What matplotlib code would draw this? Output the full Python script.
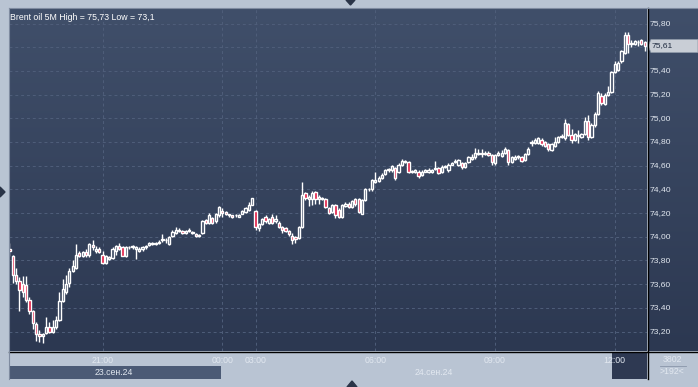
import numpy as np
import matplotlib
matplotlib.use("Agg")
import matplotlib.pyplot as plt
from matplotlib.patches import Rectangle, Polygon
from matplotlib.lines import Line2D
import matplotlib.transforms as mtransforms

# 5-minute candles, Brent oil, 23-24 Sep 2024
opens = [
    73.90, 73.84, 73.68, 73.63, 73.60, 73.59, 73.47, 73.37, 73.26, 73.18, 73.16, 73.19,
    73.24, 73.20, 73.24, 73.30, 73.46, 73.53, 73.61, 73.71, 73.74, 73.86, 73.84, 73.87,
    73.85, 73.93, 73.88, 73.90, 73.85, 73.78, 73.81, 73.82, 73.88, 73.92, 73.91, 73.84,
    73.91, 73.92, 73.90, 73.88, 73.90, 73.91, 73.93, 73.95, 73.94, 73.95, 73.98, 73.97,
    73.94, 74.01, 74.03, 74.06, 74.05, 74.03, 74.05, 74.04, 74.02, 74.01, 74.03, 74.14,
    74.12, 74.16, 74.13, 74.18, 74.22, 74.21, 74.19, 74.18, 74.18, 74.17, 74.19, 74.21,
    74.23, 74.27, 74.22, 74.07, 74.11, 74.17, 74.12, 74.17, 74.13, 74.12, 74.08, 74.07,
    74.05, 74.01, 74.00, 73.99, 74.08, 74.37, 74.32, 74.32, 74.38, 74.32, 74.33, 74.32,
    74.24, 74.21, 74.27, 74.23, 74.17, 74.26, 74.28, 74.25, 74.32, 74.32, 74.19, 74.31,
    74.40, 74.40, 74.46, 74.47, 74.50, 74.53, 74.57, 74.56, 74.58, 74.55, 74.61, 74.64,
    74.63, 74.55, 74.55, 74.55, 74.52, 74.55, 74.55, 74.55, 74.57, 74.58, 74.55, 74.59,
    74.56, 74.61, 74.63, 74.61, 74.62, 74.59, 74.63, 74.66, 74.67, 74.70, 74.71, 74.70,
    74.71, 74.69, 74.62, 74.69, 74.68, 74.71, 74.73, 74.63, 74.66, 74.67, 74.67, 74.65,
    74.70, 74.79, 74.79, 74.79, 74.82, 74.80, 74.78, 74.73, 74.77, 74.80, 74.84, 74.83,
    74.95, 74.86, 74.82, 74.86, 74.84, 74.87, 74.98, 74.84, 74.94, 75.04, 75.19, 75.12,
    75.20, 75.22, 75.39, 75.41, 75.48, 75.55, 75.70, 75.63, 75.63, 75.64, 75.66, 75.64,
]
highs = [
    73.95, 73.85, 73.74, 73.66, 73.67, 73.67, 73.49, 73.38, 73.28, 73.21, 73.19, 73.32,
    73.28, 73.30, 73.33, 73.53, 73.64, 73.68, 73.74, 73.80, 73.94, 73.88, 73.88, 73.90,
    73.95, 73.97, 73.92, 73.91, 73.88, 73.85, 73.84, 73.91, 73.93, 73.95, 73.92, 73.92,
    73.92, 73.93, 73.92, 73.91, 73.92, 73.93, 73.96, 73.96, 73.96, 73.97, 74.02, 73.99,
    74.01, 74.06, 74.08, 74.07, 74.06, 74.06, 74.07, 74.05, 74.03, 74.02, 74.14, 74.15,
    74.20, 74.17, 74.20, 74.26, 74.24, 74.22, 74.19, 74.18, 74.19, 74.19, 74.23, 74.25,
    74.29, 74.33, 74.23, 74.12, 74.16, 74.18, 74.16, 74.19, 74.18, 74.13, 74.09, 74.08,
    74.06, 74.03, 74.01, 74.09, 74.46, 74.38, 74.35, 74.39, 74.39, 74.35, 74.34, 74.33,
    74.25, 74.28, 74.28, 74.24, 74.28, 74.29, 74.29, 74.31, 74.33, 74.33, 74.32, 74.41,
    74.41, 74.49, 74.55, 74.51, 74.54, 74.57, 74.58, 74.61, 74.59, 74.62, 74.66, 74.65,
    74.64, 74.56, 74.57, 74.56, 74.56, 74.57, 74.58, 74.57, 74.64, 74.59, 74.61, 74.61,
    74.62, 74.63, 74.66, 74.66, 74.63, 74.63, 74.68, 74.70, 74.75, 74.74, 74.74, 74.72,
    74.72, 74.70, 74.70, 74.72, 74.73, 74.76, 74.74, 74.68, 74.69, 74.69, 74.68, 74.71,
    74.76, 74.82, 74.83, 74.84, 74.83, 74.81, 74.79, 74.79, 74.84, 74.85, 74.87, 74.99,
    74.96, 74.91, 74.88, 74.90, 74.88, 75.01, 75.03, 74.96, 75.05, 75.23, 75.21, 75.21,
    75.27, 75.40, 75.48, 75.48, 75.58, 75.73, 75.73, 75.66, 75.66, 75.66, 75.67, 75.65,
]
lows = [
    73.84, 73.61, 73.60, 73.37, 73.49, 73.45, 73.35, 73.22, 73.12, 73.11, 73.10, 73.18,
    73.19, 73.19, 73.22, 73.29, 73.45, 73.52, 73.58, 73.70, 73.73, 73.83, 73.83, 73.83,
    73.83, 73.89, 73.86, 73.86, 73.77, 73.77, 73.80, 73.81, 73.85, 73.89, 73.84, 73.83,
    73.90, 73.90, 73.81, 73.87, 73.88, 73.90, 73.92, 73.93, 73.93, 73.94, 73.96, 73.95,
    73.93, 74.00, 74.02, 74.04, 74.02, 74.02, 74.04, 74.02, 74.00, 74.00, 74.02, 74.11,
    74.11, 74.11, 74.12, 74.17, 74.17, 74.18, 74.17, 74.16, 74.17, 74.17, 74.19, 74.20,
    74.22, 74.27, 74.06, 74.05, 74.10, 74.12, 74.11, 74.11, 74.12, 74.07, 74.03, 74.04,
    74.01, 73.94, 73.95, 73.98, 74.07, 74.31, 74.26, 74.27, 74.28, 74.28, 74.31, 74.24,
    74.19, 74.20, 74.16, 74.16, 74.16, 74.25, 74.24, 74.24, 74.26, 74.20, 74.19, 74.30,
    74.39, 74.39, 74.45, 74.46, 74.49, 74.52, 74.55, 74.55, 74.48, 74.54, 74.60, 74.62,
    74.54, 74.54, 74.54, 74.50, 74.51, 74.55, 74.54, 74.54, 74.56, 74.53, 74.54, 74.58,
    74.55, 74.61, 74.62, 74.60, 74.57, 74.58, 74.62, 74.65, 74.66, 74.69, 74.67, 74.69,
    74.68, 74.61, 74.61, 74.68, 74.67, 74.70, 74.61, 74.62, 74.65, 74.66, 74.63, 74.64,
    74.69, 74.77, 74.78, 74.78, 74.77, 74.76, 74.72, 74.72, 74.76, 74.79, 74.83, 74.82,
    74.85, 74.79, 74.81, 74.79, 74.83, 74.86, 74.82, 74.83, 74.93, 75.03, 75.11, 75.11,
    75.19, 75.21, 75.38, 75.40, 75.47, 75.54, 75.55, 75.60, 75.62, 75.61, 75.62, 75.57,
]
closes = [
    73.88, 73.68, 73.63, 73.55, 73.53, 73.47, 73.37, 73.27, 73.18, 73.16, 73.18, 73.24,
    73.20, 73.24, 73.30, 73.46, 73.56, 73.60, 73.71, 73.75, 73.85, 73.84, 73.87, 73.85,
    73.94, 73.91, 73.90, 73.87, 73.78, 73.84, 73.83, 73.90, 73.92, 73.90, 73.84, 73.91,
    73.91, 73.91, 73.91, 73.90, 73.91, 73.92, 73.95, 73.94, 73.95, 73.95, 73.97, 73.97,
    74.00, 74.04, 74.06, 74.05, 74.03, 74.05, 74.06, 74.03, 74.01, 74.01, 74.13, 74.12,
    74.18, 74.12, 74.19, 74.25, 74.20, 74.19, 74.18, 74.17, 74.18, 74.18, 74.22, 74.24,
    74.27, 74.33, 74.08, 74.11, 74.15, 74.13, 74.15, 74.12, 74.15, 74.08, 74.06, 74.05,
    74.02, 73.97, 73.98, 74.08, 74.35, 74.33, 74.34, 74.37, 74.32, 74.34, 74.32, 74.25,
    74.20, 74.27, 74.18, 74.17, 74.27, 74.28, 74.25, 74.30, 74.28, 74.21, 74.31, 74.40,
    74.40, 74.48, 74.48, 74.50, 74.52, 74.56, 74.56, 74.60, 74.50, 74.61, 74.64, 74.63,
    74.55, 74.55, 74.56, 74.51, 74.55, 74.56, 74.56, 74.56, 74.58, 74.54, 74.59, 74.60,
    74.61, 74.62, 74.64, 74.65, 74.59, 74.62, 74.67, 74.67, 74.71, 74.71, 74.70, 74.71,
    74.69, 74.63, 74.69, 74.71, 74.71, 74.74, 74.63, 74.67, 74.67, 74.68, 74.64, 74.70,
    74.74, 74.80, 74.82, 74.83, 74.78, 74.77, 74.74, 74.78, 74.80, 74.84, 74.85, 74.96,
    74.86, 74.82, 74.87, 74.85, 74.87, 74.98, 74.84, 74.94, 75.04, 75.21, 75.13, 75.20,
    75.22, 75.39, 75.46, 75.47, 75.57, 75.70, 75.63, 75.63, 75.65, 75.64, 75.63, 75.61,
]

time_ticks = [28, 64, 74, 110, 146, 182]
time_labels = ["21:00", "00:00", "03:00", "06:00", "09:00", "12:00"]
date_pos = [31.5, 127.5]
date_labels = ["23.сен.24", "24.сен.24"]
price_levels = [73.2, 73.4, 73.6, 73.8, 74.0, 74.2, 74.4, 74.6, 74.8, 75.0, 75.2, 75.4, 75.6, 75.8]
last_price = 75.61
title = "Brent oil 5M High = 75,73 Low = 73,1"

W, H = 698, 387
plt.rcParams['font.family'] = ['Liberation Sans', 'DejaVu Sans']
fig = plt.figure(figsize=(W / 100, H / 100), dpi=100, facecolor='#b9c4d3')


def box(x0, y0, x1, y1):
    return [x0 / W, 1 - y1 / H, (x1 - x0) / W, (y1 - y0) / H]


def gradient(ax, top, bottom):
    c1 = np.array(matplotlib.colors.to_rgb(top))
    c2 = np.array(matplotlib.colors.to_rgb(bottom))
    t = np.linspace(0, 1, 256)[:, None]
    img = (c1 * (1 - t) + c2 * t)[:, None, :]
    ax.imshow(img, extent=[0, 1, 0, 1], transform=ax.transAxes, aspect='auto', zorder=0)


BG_TOP, BG_BOT = '#404f6a', '#2c3851'
TXT = '#e2e8f0'
GRID = '#4f5e7a'
xlim = (-0.15, 191.7)
ylim = (73.036, 75.931)

# main chart
ax = fig.add_axes(box(9, 8, 647, 351))
gradient(ax, BG_TOP, BG_BOT)
ax.set_xlim(*xlim)
ax.set_ylim(*ylim)
ax.set_axis_off()

for p in price_levels:
    ax.axhline(p, color=GRID, lw=0.7, ls=(0, (3, 3)), zorder=1)
for t in time_ticks:
    ax.axvline(t, color=GRID, lw=0.7, ls=(0, (3, 3)), zorder=1)

o = np.array(opens)
h = np.array(highs)
l = np.array(lows)
c = np.array(closes)
x = np.arange(len(c))
up = c >= o
ax.vlines(x, l, h, color='white', lw=1.0, zorder=2)
body = np.maximum(np.abs(c - o), 0.005)
fills = np.where(up, '#34415b', '#e0163f')
ax.bar(x, body, 0.68, bottom=np.minimum(o, c), color=fills, edgecolor='white',
       linewidth=1.0, zorder=3)

ax.text(0.002, 0.972, title, transform=ax.transAxes, color='white', fontsize=6.3,
        ha='left', va='center', zorder=5)

# price scale
axr = fig.add_axes(box(648, 8, 698, 351))
gradient(axr, BG_TOP, BG_BOT)
axr.set_xlim(0, 1)
axr.set_ylim(*ylim)
axr.set_axis_off()
dy = 0.055
for p in price_levels:
    if abs(p - last_price) < 2 * dy:
        continue  # hidden behind the last-price marker
    axr.text(0.04, p, f"{p:.2f}".replace('.', ','), color=TXT, fontsize=6.1,
             ha='left', va='center')
axr.fill([0.0, 0.06, 1.0, 1.0, 0.06], [last_price, last_price + dy, last_price + dy,
         last_price - dy, last_price - dy], color='#c9ced6', ec='#8e99a8', lw=0.6, zorder=4)
axr.text(0.07, last_price, f"{last_price:.2f}".replace('.', ','), color='#1f2a3f',
         fontsize=6.1, ha='left', va='center', zorder=5)

# time axis
axb = fig.add_axes(box(9, 352, 647, 379))
axb.set_facecolor('#3c4a64')
axb.set_xlim(*xlim)
axb.set_ylim(0, 1)
axb.set_axis_off()
axb.add_patch(Rectangle((xlim[0], 0), 63.6 - xlim[0], 0.5, color='#4b5a75', lw=0))
axb.add_patch(Rectangle((181.2, 0), xlim[1] - 181.2, 1, color='#2e3952', lw=0))
for t, s in zip(time_ticks, time_labels):
    axb.text(t, 0.7, s, color=TXT, fontsize=6.3, ha='center', va='center')
for t, s in zip(date_pos, date_labels):
    axb.text(t, 0.25, s, color=TXT, fontsize=6.3, ha='center', va='center')

# corner box
axc = fig.add_axes(box(648, 352, 698, 379))
axc.set_facecolor('#3c4a64')
axc.set_xlim(0, 1)
axc.set_ylim(0, 1)
axc.set_axis_off()
axc.text(0.48, 0.72, "3802", color=TXT, fontsize=6.3, ha='center', va='center')
axc.text(0.48, 0.27, ">192<", color=TXT, fontsize=6.3, ha='center', va='center')
axc.plot([0.24, 0.76], [0.5, 0.5], color='#8a96aa', lw=0.6)

# separators and arrow markers
px = mtransforms.Affine2D().scale(1 / W, -1 / H).translate(0, 1) + fig.transFigure
fig.add_artist(Line2D([647.5, 647.5], [8, 379], color='black', lw=1.0, transform=px))
fig.add_artist(Line2D([9, 698], [351.5, 351.5], color='black', lw=1.0, transform=px))
fig.add_artist(Line2D([8.5, 8.5], [8, 379], color='#7f8ba0', lw=0.8, transform=px))
fig.add_artist(Line2D([9, 698], [7.5, 7.5], color='#7f8ba0', lw=0.8, transform=px))
fig.add_artist(Polygon([[346, 0], [355, 0], [350.5, 5]], closed=True, color='#2a3448', transform=px))
fig.add_artist(Polygon([[347, 387], [357, 387], [352, 381]], closed=True, color='#2a3448', transform=px))
fig.add_artist(Polygon([[0, 187], [0, 197], [5, 192]], closed=True, color='#2a3448', transform=px))

fig.savefig("out.png", dpi=100, facecolor=fig.get_facecolor())
